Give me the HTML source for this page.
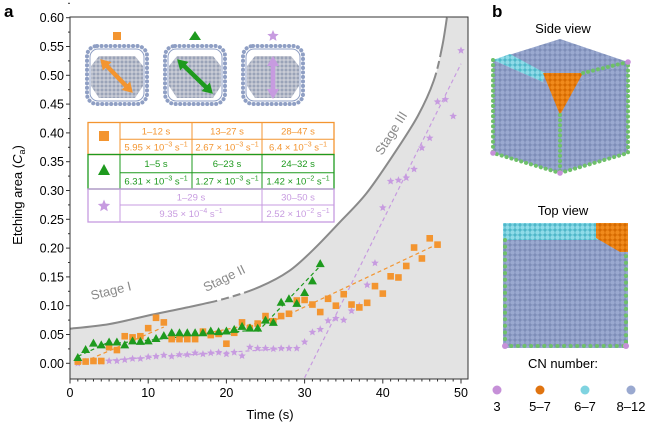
<!DOCTYPE html>
<html><head><meta charset="utf-8"><style>
body{margin:0;background:#fff;}
svg{display:block;font-family:"Liberation Sans",Arial,sans-serif;}
svg text, svg tspan{font-family:"Liberation Sans",Arial,sans-serif;}
</style></head><body>
<svg id="fig" width="652" height="429" viewBox="0 0 652 429" xmlns="http://www.w3.org/2000/svg">
<defs>
<pattern id="atoms" width="4" height="4" patternUnits="userSpaceOnUse"><rect width="4" height="4" fill="#c9ccd6"/><circle cx="2" cy="2" r="1.5" fill="#9aa3b8"/></pattern>
<pattern id="blueatoms" width="5" height="5" patternUnits="userSpaceOnUse"><rect width="5" height="5" fill="#7d8db8"/><circle cx="2.5" cy="2.5" r="2.2" fill="#9aa9d0"/></pattern>
<pattern id="cyanatoms" width="5" height="5" patternUnits="userSpaceOnUse"><rect width="5" height="5" fill="#4fb7c9"/><circle cx="2.5" cy="2.5" r="2.2" fill="#8fdbe8"/></pattern>
<pattern id="orangeatoms" width="5" height="5" patternUnits="userSpaceOnUse"><rect width="5" height="5" fill="#d66a00"/><circle cx="2.5" cy="2.5" r="2.2" fill="#f08a1c"/></pattern>
<clipPath id="plotclip"><rect x="70" y="17" width="398" height="362"/></clipPath>
</defs>
<text x="4" y="17" font-size="17" font-weight="bold">a</text>
<text x="492" y="17" font-size="17" font-weight="bold">b</text>
<g id="plot"></g>
<g id="panelb"></g>
</svg>
<script>
// ---- data ----
const orangeT = [1,2,3,4,5,6,7,8,9,10,11,12,13,14,15,16,17,18,19,20,21,22,23,24,25,26,27,28,29,30,31,32,33,34,35,36,37,38,39,40,41,42,43,44,45,46,47];
const orangeV = [0.003,0.003,0.004,0.004,0.028,0.023,0.047,0.045,0.047,0.061,0.079,0.071,0.042,0.042,0.042,0.042,0.055,0.049,0.051,0.034,0.053,0.071,0.061,0.069,0.082,0.073,0.082,0.086,0.109,0.110,0.102,0.089,0.112,0.100,0.120,0.102,0.097,0.105,0.134,0.121,0.151,0.149,0.169,0.201,0.182,0.217,0.206];
const greenT = [1,2,3,4,5,6,7,8,9,10,11,12,13,14,15,16,17,18,19,20,21,22,23,24,25,26,27,28,29,30,31,32];
const greenV = [0.010,0.024,0.035,0.032,0.037,0.037,0.032,0.039,0.038,0.039,0.043,0.048,0.053,0.053,0.053,0.053,0.053,0.056,0.055,0.056,0.059,0.064,0.061,0.061,0.075,0.071,0.106,0.112,0.104,0.123,0.143,0.173];
const purpleT = [1,2,3,4,5,6,7,8,9,10,11,12,13,14,15,16,17,18,19,20,21,22,23,24,25,26,27,28,29,30,31,32,33,34,35,36,37,38,39,40,41,42,43,44,45,46,47,48,49,50];
const purpleV = [0.000,0.003,0.004,0.003,0.004,0.004,0.006,0.008,0.008,0.011,0.012,0.014,0.012,0.015,0.015,0.018,0.016,0.018,0.019,0.016,0.019,0.013,0.028,0.026,0.026,0.025,0.026,0.026,0.026,0.037,0.054,0.059,0.074,0.078,0.075,0.091,0.100,0.136,0.174,0.270,0.316,0.318,0.322,0.337,0.374,0.391,0.454,0.458,0.429,0.543];
const orangeFits = [[1,-0.002,12,0.063],[13,0.040,27,0.078],[28,0.085,47,0.207]];
const greenFits = [[1,0.012,5,0.037],[6,0.035,23,0.057],[24,0.055,32,0.169]];
const purpleFits = [[1,0.002,29,0.027],[30,-0.025,50,0.52]];
const stageT = [0,5,10,15,20,24.3,28,31.1,34.5,37.9,41.5,44.5,46.5,47.6,48.2];
const stageV = [0.06,0.068,0.083,0.097,0.113,0.133,0.16,0.197,0.245,0.295,0.365,0.43,0.49,0.55,0.60];
const yTicks = [0,0.05,0.10,0.15,0.20,0.25,0.30,0.35,0.40,0.45,0.50,0.55,0.60];
const yTickLabels = ["0.00","0.05","0.10","0.15","0.20","0.25","0.30","0.35","0.40","0.45","0.50","0.55","0.60"];
const xTicks = [0,10,20,30,40,50];
const xTickLabels = ["0","10","20","30","40","50"];

const NS="http://www.w3.org/2000/svg";
const X0=70,X1=468,Y0=17,Y1=379;
const xs=t=>70+t*7.82;
const ys=v=>363.3-v*576;
const OR="#f39530",GR="#1e9a1e",PU="#c79be0",GRAY="#8a8a8a";
function mk(tag,attrs,parent){const e=document.createElementNS(NS,tag);for(const k in attrs)e.setAttribute(k,attrs[k]);parent.appendChild(e);return e;}
function tx(s,attrs,parent){const e=mk('text',attrs,parent);e.textContent=s;return e;}
const plot=document.getElementById('plot');

// smooth curve through points (catmull-rom)
function smooth(px,py){let d=`M${px[0].toFixed(1)},${py[0].toFixed(1)}`;
for(let i=0;i<px.length-1;i++){const i0=Math.max(0,i-1),i3=Math.min(px.length-1,i+2);
const c1x=px[i]+(px[i+1]-px[i0])/6,c1y=py[i]+(py[i+1]-py[i0])/6;
const c2x=px[i+1]-(px[i3]-px[i])/6,c2y=py[i+1]-(py[i3]-py[i])/6;
d+=`C${c1x.toFixed(1)},${c1y.toFixed(1)} ${c2x.toFixed(1)},${c2y.toFixed(1)} ${px[i+1].toFixed(1)},${py[i+1].toFixed(1)}`;}return d;}
const curve=smooth(stageT.map(xs),stageV.map(ys));
const fill=mk('path',{d:curve+`L${X1},${Y0}L${X1},${Y1}L${X0},${Y1}Z`,fill:'#e3e3e3'},plot);


const cl=mk('path',{d:curve,fill:'none',stroke:GRAY,'stroke-width':2,'stroke-dasharray':'150 4 8 4 8 4 300 4 8 4 600'},plot);


const sl=[["Stage I",92,300,-14],["Stage II",206,292,-26],["Stage III",382,156,-58]];
sl.forEach(s=>{const e=tx(s[0],{x:s[1],y:s[2],'font-size':13,fill:GRAY,transform:`rotate(${s[3]} ${s[1]} ${s[2]})`},plot);

});

// fit lines
const g=mk('g',{'clip-path':'url(#plotclip)'},plot);
function fits(arr,col,name){arr.forEach(f=>{const l=mk('line',{x1:xs(f[0]),y1:ys(f[1]),x2:xs(f[2]),y2:ys(f[3]),stroke:col,'stroke-width':1.2,'stroke-dasharray':'4 3'},g);

});}
fits(purpleFits,PU,'purple-fit-line');
fits(orangeFits,OR,'orange-fit-line');
fits(greenFits,GR,'green-fit-line');

function starPath(cx,cy,r){let d='';for(let i=0;i<10;i++){const a=-Math.PI/2+i*Math.PI/5;const rr=i%2?r*0.45:r;d+=(i?'L':'M')+(cx+rr*Math.cos(a)).toFixed(1)+','+(cy+rr*Math.sin(a)).toFixed(1);}return d+'Z';}
purpleT.forEach((t,i)=>{const p=mk('path',{d:starPath(xs(t),ys(purpleV[i]),4),fill:PU},g);

});
orangeT.forEach((t,i)=>{const r=mk('rect',{x:xs(t)-3.3,y:ys(orangeV[i])-3.3,width:6.6,height:6.6,fill:OR},g);

});
greenT.forEach((t,i)=>{const cx=xs(t),cy=ys(greenV[i]);const p=mk('path',{d:`M${cx},${cy-4.5}L${cx+4.5},${cy+3.5}L${cx-4.5},${cy+3.5}Z`,fill:GR},g);

});

// axes
const ax=mk('path',{d:`M${X0},${Y0}L${X1},${Y0}L${X1},${Y1}L${X0},${Y1}Z`,fill:'none',stroke:'#333','stroke-width':1},plot);


yTicks.forEach((v,i)=>{mk('line',{x1:X0-4,x2:X0,y1:ys(v),y2:ys(v),stroke:'#333'},plot);
mk('line',{x1:X0-2,x2:X0,y1:ys(v+0.025),y2:ys(v+0.025),stroke:'#333'},plot);
const t=tx(yTickLabels[i],{x:X0-6,y:ys(v)+4.5,'font-size':12.5,'text-anchor':'end'},plot);

});
for(let t=0;t<=50;t++){mk('line',{x1:xs(t),x2:xs(t),y1:Y1,y2:Y1+(t%10?2.5:4.5),stroke:'#333'},plot);}
xTicks.forEach((t,i)=>{const e=tx(xTickLabels[i],{x:xs(t),y:397,'font-size':12.5,'text-anchor':'middle'},plot);

});
const xt=tx('Time (s)',{x:270,y:419,'font-size':13,'text-anchor':'middle'},plot);


const yt=mk('text',{x:0,y:0,'font-size':13,'text-anchor':'middle',transform:'translate(22,195) rotate(-90)'},plot);
yt.innerHTML='Etching area (<tspan font-style="italic">C</tspan><tspan font-size="9" dy="3">a</tspan><tspan dy="-3">)</tspan>';



// inset cluster icons
function icon(cx,col,kind,arrow){
const ig=mk('g',{},plot);


mk('polygon',{points:`${cx-18},${56} ${cx+18},${56} ${cx+26},${66} ${cx+26},${86} ${cx+18},${98} ${cx-18},${98} ${cx-26},${86} ${cx-26},${66}`,fill:'url(#atoms)'},ig);
mk('rect',{x:cx-30,y:46,width:60,height:58,rx:10,fill:'none',stroke:'#8f9fc4','stroke-width':4,'stroke-dasharray':'0.1 4.4','stroke-linecap':'round'},ig);
mk('rect',{x:cx-27,y:49,width:54,height:52,rx:8,fill:'none',stroke:'#8f9fc4','stroke-width':1},ig);
const a=arrow;
mk('line',{x1:a[0],y1:a[1],x2:a[2],y2:a[3],stroke:col,'stroke-width':4.5},ig);
function head(x,y,px,py){const dx=x-px,dy=y-py,L=Math.hypot(dx,dy),ux=dx/L,uy=dy/L;
mk('path',{d:`M${x+ux*4},${y+uy*4}L${x-ux*6-uy*6},${y-uy*6+ux*6}L${x-ux*6+uy*6},${y-uy*6-ux*6}Z`,fill:col},ig);}
head(a[0],a[1],a[2],a[3]);head(a[2],a[3],a[0],a[1]);
const mkr=kind==='square'?mk('rect',{x:cx-4,y:32,width:8,height:8,fill:col},ig):
kind==='triangle'?mk('path',{d:`M${cx},${31}L${cx+6},${40}L${cx-6},${40}Z`,fill:col},ig):
mk('path',{d:starPath(cx,36,6),fill:col},ig);


}
icon(117,OR,'square',[103,62,130,90]);
icon(195,GR,'triangle',[180,62,210,91]);
icon(273,PU,'star',[273,60,273,95]);

// table
const tb=mk('g',{'font-size':9.5,'text-anchor':'middle','font-family':'Liberation Sans, Arial, sans-serif'},plot);


mk('rect',{x:88,y:122.5,width:246,height:99.5,fill:'#fff'},tb);
function row(y0,y1,ymid,col,cells){
mk('rect',{x:88,y:y0,width:246,height:y1-y0,fill:'none',stroke:col,'stroke-width':1.3},tb);
mk('line',{x1:120,x2:334,y1:ymid,y2:ymid,stroke:col,'stroke-width':1},tb);
mk('line',{x1:120,x2:120,y1:y0,y2:y1,stroke:col,'stroke-width':1},tb);
cells.forEach(c=>{if(c.div)mk('line',{x1:c.div,x2:c.div,y1:c.full?y0:ymid,y2:y1,stroke:col,'stroke-width':1},tb);});
cells.forEach(c=>{const t=tx(c.t,{x:c.x,y:(y0+ymid)/2+3.5,fill:col},tb);
const r=mk('text',{x:c.x,y:(ymid+y1)/2+3.5,fill:col},tb);r.innerHTML=c.r;});
}
const e=(m,p)=>`${m} × 10<tspan font-size="7" dy="-4">${p}</tspan><tspan dy="4"> s</tspan><tspan font-size="7" dy="-4">−1</tspan>`;
row(122.5,154.5,139.3,OR,[{x:156,t:'1–12 s',r:e('5.95','−3'),div:192,full:1},{x:227,t:'13–27 s',r:e('2.67','−3'),div:262,full:1},{x:298,t:'28–47 s',r:e('6.4','−3')}]);
row(154.5,189,172.7,GR,[{x:156,t:'1–5 s',r:e('6.31','−3'),div:192,full:1},{x:227,t:'6–23 s',r:e('1.27','−3'),div:262,full:1},{x:298,t:'24–32 s',r:e('1.42','−2')}]);
row(189,222,205,PU,[{x:191,t:'1–29 s',r:e('9.35','−4'),div:262,full:1},{x:298,t:'30–50 s',r:e('2.52','−2')}]);
mk('rect',{x:99,y:131,width:10,height:10,fill:OR},tb);
mk('path',{d:'M104,164L110,175L98,175Z',fill:GR},tb);
mk('path',{d:starPath(104,206,6.5),fill:PU},tb);

// ---- panel b ----
const pb=document.getElementById('panelb');
tx('Side view',{x:563,y:33,'font-size':13,'text-anchor':'middle'},pb);
const sv=mk('g',{},pb);


mk('polygon',{points:'560,39 493,60 560,90 628,62',fill:'url(#blueatoms)'},sv);
mk('polygon',{points:'493,60 560,90 560,173 493,153',fill:'url(#blueatoms)'},sv);
mk('polygon',{points:'628,62 560,90 560,173 628,153',fill:'url(#blueatoms)'},sv);
mk('polygon',{points:'493,60 510,54 545,73 543,82',fill:'url(#cyanatoms)'},sv);
mk('polygon',{points:'543,73 583,73 560,115',fill:'url(#orangeatoms)'},sv);
[['M493,60L493,153L560,173L628,153L628,62'],['M560,115L560,173'],['M583,73L628,62']].forEach(d=>mk('path',{d:d[0],fill:'none',stroke:'#6fc06a','stroke-width':4,'stroke-dasharray':'0.1 5','stroke-linecap':'round'},sv));
[[493,153],[560,173],[628,62]].forEach(p=>mk('circle',{cx:p[0],cy:p[1],r:2.8,fill:'#c690d8'},sv));
tx('Top view',{x:563,y:215,'font-size':13,'text-anchor':'middle'},pb);
const tv=mk('g',{},pb);


mk('rect',{x:503,y:223,width:125,height:125,fill:'url(#blueatoms)'},tv);
mk('rect',{x:503,y:223,width:95,height:17,fill:'url(#cyanatoms)'},tv);
mk('polygon',{points:'596,223 628,223 628,252 620,252 596,238',fill:'url(#orangeatoms)'},tv);
mk('path',{d:'M505,240L505,346L626,346L626,255',fill:'none',stroke:'#6fc06a','stroke-width':4,'stroke-dasharray':'0.1 6.5','stroke-linecap':'round'},tv);
[[505,346],[626,346]].forEach(p=>mk('circle',{cx:p[0],cy:p[1],r:3,fill:'#c690d8'},tv));
tx('CN number:',{x:563,y:368,'font-size':13,'text-anchor':'middle'},pb);
const legC=['#c690d8','#e07410','#7fd3e0','#9aa9d0'];
const legL=['3','5–7','6–7','8–12'];
const legX=[497,540,585,631];
legC.forEach((c,i)=>{const ci=mk('circle',{cx:legX[i],cy:390,r:4.5,fill:c},pb);


const t=tx(legL[i],{x:legX[i],y:411,'font-size':13,'text-anchor':'middle'},pb);

});
</script>
</body></html>
